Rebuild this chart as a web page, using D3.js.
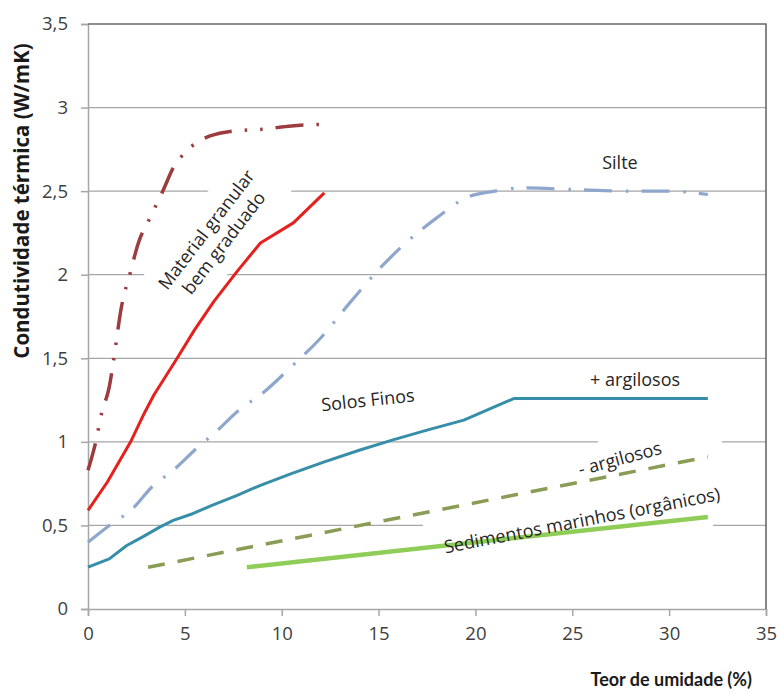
<!DOCTYPE html>
<html>
<head>
<meta charset="utf-8">
<script src="https://cdn.jsdelivr.net/npm/d3@7"></script>
<style>
  html, body { margin: 0; padding: 0; background: #fff; }
  svg { display: block; font-family: "Open Sans", "DejaVu Sans", sans-serif; }
</style>
</head>
<body>
<svg id="chart" width="781" height="691"></svg>
<script>
// Thermal conductivity (W/mK) against moisture content (%) for several soil types
const xTicks = [0, 5, 10, 15, 20, 25, 30, 35];
const yTicks = [0, 0.5, 1, 1.5, 2, 2.5, 3, 3.5];

const granularX = [0, 0.4, 0.7, 1.1, 1.35, 1.7, 2.2, 2.6, 3.2, 3.9, 4.4, 5.0, 5.6, 6.3, 7.5, 9, 10.5, 12.1];
const granularY = [0.83, 1.0, 1.17, 1.33, 1.51, 1.79, 2.02, 2.19, 2.34, 2.51, 2.64, 2.73, 2.79, 2.83, 2.86, 2.87, 2.89, 2.9];

const redX = [0, 1, 1.5, 2.2, 2.9, 3.4, 4.6, 5.5, 6.5, 7.7, 8.9, 10.6, 12.2];
const redY = [0.59, 0.76, 0.86, 1.0, 1.17, 1.28, 1.5, 1.67, 1.84, 2.02, 2.19, 2.31, 2.49];

const silteX = [0, 1.1, 2.3, 3.3, 4.5, 5.5, 6.6, 7.8, 9, 10.5, 12, 13.5, 15, 16.5, 18, 19.5, 21, 22.5, 25, 28, 30, 32];
const silteY = [0.4, 0.5, 0.6, 0.73, 0.84, 0.95, 1.06, 1.19, 1.29, 1.45, 1.62, 1.83, 2.03, 2.2, 2.34, 2.46, 2.5, 2.52, 2.51, 2.5, 2.5, 2.48];

const maisArgX = [0, 1.1, 2, 2.8, 3.7, 4.4, 5.4, 6.4, 7.7, 8.9, 10.5, 12.2, 14, 15.7, 17.5, 19.4, 22, 32];
const maisArgY = [0.25, 0.3, 0.38, 0.43, 0.49, 0.53, 0.57, 0.62, 0.68, 0.74, 0.81, 0.88, 0.95, 1.01, 1.07, 1.13, 1.26, 1.26];

const menosArgX = [3.1, 32];
const menosArgY = [0.25, 0.91];

const sedimX = [8.2, 32];
const sedimY = [0.25, 0.55];

const margin = { top: 24, right: 15, bottom: 82, left: 88 };
const W = 781, H = 691;
const iw = W - margin.left - margin.right;
const ih = H - margin.top - margin.bottom;

const svg = d3.select("#chart");
const g = svg.append("g").attr("transform", `translate(${margin.left},${margin.top})`);

const x = d3.scaleLinear().domain([0, 35]).range([0, iw]);
const y = d3.scaleLinear().domain([0, 3.5]).range([ih, 0]);

const fmt = d => String(d).replace(".", ",");

// horizontal gridlines
g.append("g")
  .selectAll("line")
  .data(yTicks.filter(d => d > 0 && d < 3.5))
  .join("line")
  .attr("x1", 0).attr("x2", iw)
  .attr("y1", d => y(d)).attr("y2", d => y(d))
  .attr("stroke", "#a6a6a6").attr("stroke-width", 1.3);

// in-plot annotations; some carry a white backdrop that interrupts the gridlines
const labels = [
  { lines: ["Material granular", "bem graduado"], x: 6.56, y: 2.23, angle: -52.5, size: 18,
    box: { dx: 0, dy: 0, w: 200, h: 66, angle: -52.5 } },
  { lines: ["Silte"], x: 27.46, y: 2.67, angle: 0, size: 18 },
  { lines: ["Solos Finos"], x: 14.45, y: 1.25, angle: -6, size: 18 },
  { lines: ["+ argilosos"], x: 28.24, y: 1.37, angle: 0, size: 18 },
  { lines: ["- argilosos"], x: 27.46, y: 0.9, angle: -15, size: 18,
    box: { dx: 40, dy: -9, w: 124, h: 22, angle: 0 } },
  { lines: ["Sedimentos marinhos (orgânicos)"], x: 25.5, y: 0.53, angle: -11, size: 18,
    box: { dx: -14, dy: 5, w: 290, h: 20, angle: 0 } }
];

g.append("g")
  .selectAll("rect")
  .data(labels.filter(d => d.box))
  .join("rect")
  .attr("transform", d => `translate(${x(d.x) + d.box.dx},${y(d.y) + d.box.dy}) rotate(${d.box.angle})`)
  .attr("x", d => -d.box.w / 2).attr("y", d => -d.box.h / 2)
  .attr("width", d => d.box.w).attr("height", d => d.box.h)
  .attr("fill", "#fff");

// axes
const yAxis = g.append("g")
  .call(d3.axisLeft(y).tickValues(yTicks).tickSize(7).tickPadding(13).tickFormat(fmt));
const xAxis = g.append("g")
  .attr("transform", `translate(0,${ih})`)
  .call(d3.axisBottom(x).tickValues(xTicks).tickSize(7).tickPadding(11).tickFormat(fmt));
[yAxis, xAxis].forEach(a => {
  a.select(".domain").attr("stroke", "#a6a6a6").attr("stroke-width", 1.5);
  a.selectAll(".tick line").attr("stroke", "#a6a6a6").attr("stroke-width", 1.5);
  a.selectAll(".tick text").attr("fill", "#404040").attr("font-size", 18.5)
    .attr("font-family", "'Open Sans', sans-serif");
});

// top and right frame
g.append("path")
  .attr("d", `M0,0H${iw}V${ih}`)
  .attr("fill", "none").attr("stroke", "#6a6a6a").attr("stroke-width", 1.6);

// series
const series = [
  { xs: granularX, ys: granularY, color: "#9c3c3e", width: 3.5, dash: "28 13 2.5 13 2.5 13", curve: d3.curveMonotoneX },
  { xs: redX, ys: redY, color: "#e5211d", width: 3, dash: null, curve: d3.curveLinear },
  { xs: silteX, ys: silteY, color: "#8fa7cc", width: 3.2, dash: "28 14 2.5 13", curve: d3.curveMonotoneX },
  { xs: maisArgX, ys: maisArgY, color: "#378ea9", width: 3, dash: null, curve: d3.curveLinear },
  { xs: menosArgX, ys: menosArgY, color: "#8a9c55", width: 3.5, dash: "17 13", curve: d3.curveLinear },
  { xs: sedimX, ys: sedimY, color: "#8fcd58", width: 4.5, dash: null, curve: d3.curveLinear }
];

series.forEach(s => {
  const pts = s.xs.map((v, i) => [v, s.ys[i]]);
  const line = d3.line().x(d => x(d[0])).y(d => y(d[1])).curve(s.curve);
  g.append("path")
    .attr("d", line(pts))
    .attr("fill", "none")
    .attr("stroke", s.color)
    .attr("stroke-width", s.width)
    .attr("stroke-dasharray", s.dash)
    .attr("stroke-linejoin", "round");
});

labels.forEach(l => {
  const t = g.append("text")
    .attr("transform", `translate(${x(l.x)},${y(l.y)}) rotate(${l.angle})`)
    .attr("text-anchor", "middle")
    .attr("font-size", l.size)
    .attr("fill", "#262626");
  const n = l.lines.length;
  l.lines.forEach((s, i) => {
    t.append("tspan")
      .attr("x", 0)
      .attr("y", (i - (n - 1) / 2) * 22)
      .attr("dy", "0.35em")
      .text(s);
  });
});

// axis titles
svg.append("text")
  .attr("transform", `translate(22,${margin.top + 177}) rotate(-90)`)
  .attr("text-anchor", "middle")
  .attr("dy", "0.35em")
  .attr("font-weight", "bold")
  .attr("font-size", 20.5)
  .attr("fill", "#1a1a1a")
  .text("Condutividade térmica (W/mK)");

svg.append("text")
  .attr("x", 752).attr("y", 680)
  .attr("text-anchor", "end")
  .attr("dy", "0.35em")
  .attr("font-weight", "bold")
  .attr("font-family", "Lato, 'Open Sans', sans-serif")
  .attr("font-size", 18)
  .attr("fill", "#1a1a1a")
  .text("Teor de umidade (%)");
</script>
</body>
</html>
